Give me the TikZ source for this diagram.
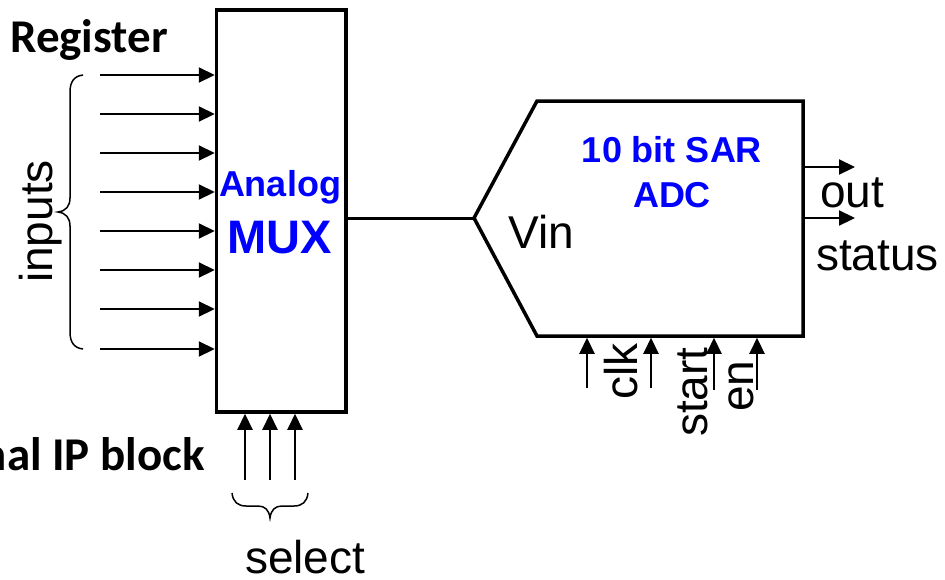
\documentclass[tikz,border=0pt]{standalone}
\usepackage{fontspec}
\setmainfont{Liberation Sans}
\newfontfamily\calib{Carlito}
\usetikzlibrary{arrows.meta}
\begin{document}
\begin{tikzpicture}[x=1pt,y=-1pt,
  blockline/.style={draw,line width=3.5pt,line join=miter},
  sig/.style={line width=2.2pt,-{Triangle[length=16pt,width=15pt]}},
  lbl/.style={inner sep=0pt,font=\fontsize{46}{50}\selectfont},
  bluelbl/.style={inner sep=0pt,text=blue,font=\bfseries\fontsize{36}{40}\selectfont},
  caltext/.style={inner sep=0pt,font=\calib\bfseries\fontsize{47}{50}\selectfont},
  bracepath/.style={line width=1.5pt}]
\useasboundingbox (0,0) rectangle (945,579);

% MUX block
\node[blockline,minimum width=129.5pt,minimum height=402pt,inner sep=0pt] (mux) at (281.25,211) {};
\node[bluelbl,anchor=base] (analog) at (280,196) {Analog};
\node[inner sep=0pt,text=blue,font=\bfseries\fontsize{47}{50}\selectfont,anchor=base] (muxt) at (280,253) {MUX};

% inputs
\foreach \i/\y in {1/75,2/114,3/153,4/192,5/231,6/270,7/309,8/349}{
  \coordinate (in\i) at (100,\y);
  \draw[sig] (in\i) -- (in\i -| mux.west);
}
\draw[bracepath] (83,75) .. controls (74,76) and (70,82) .. (70,92) -- (70,198)
  .. controls (70,206) and (66,211) .. (58,212) .. controls (66,213) and (70,218) .. (70,226)
  -- (70,332) .. controls (70,342) and (74,348) .. (83,349);
\node[lbl,rotate=90,anchor=base west] (inputs) at (52,283) {inputs};

\node[caltext,anchor=base west] (reg) at (10,52) {Register};
\node[caltext,anchor=base east] (ip) at (205,470) {nal IP block};

% select
\foreach \i/\x in {1/245,2/270,3/295}{
  \coordinate (s\i) at (\x,480);
  \draw[sig] (s\i) -- (s\i |- mux.south);
}
\draw[bracepath] (232,493) .. controls (233,502) and (238,506) .. (246,506) -- (258,506)
  .. controls (265,506) and (269,510) .. (270,518) .. controls (271,510) and (275,506) .. (282,506)
  -- (294,506) .. controls (302,506) and (307,502) .. (308,493);
\node[lbl,anchor=base west] (select) at (245,573) {select};

% ADC block
\coordinate (vin) at (474,218);
\coordinate (tl) at (537,101);
\coordinate (tr) at (803,101);
\coordinate (br) at (803,336);
\coordinate (bl) at (537,336);
\draw[blockline] (vin) -- (tl) -- (tr) -- (br) -- (bl) -- cycle;
\coordinate (adcbot) at (0,337.75);
\coordinate (adcright) at (804.75,0);
\draw[line width=3pt] (mux.east |- vin) -- (vin);

\node[bluelbl,anchor=base] (t1) at (672,162) {10 bit SAR};
\node[bluelbl,anchor=base] (t2) at (672,207) {ADC};
\node[lbl,anchor=base west] (vint) at (508,248) {Vin};

% outputs
\coordinate (o1) at (855,167);
\coordinate (o2) at (855,218);
\draw[sig] (o1 -| adcright) -- (o1);
\draw[sig] (o2 -| adcright) -- (o2);
\node[lbl,anchor=base west] (out) at (820,207) {out};
\node[lbl,anchor=base west] (status) at (816,270) {status};

% control inputs
\foreach \i/\x/\y in {1/587/388,2/651/388,3/714/390,4/757/390}{
  \coordinate (c\i) at (\x,\y);
  \draw[sig] (c\i) -- (c\i |- adcbot);
}
\node[lbl,rotate=90,anchor=base west] (clk) at (637,400) {clk};
\node[lbl,rotate=90,anchor=base west] (start) at (707,437) {start};
\node[lbl,rotate=90,anchor=base west] (en) at (753,412) {en};
\end{tikzpicture}
\end{document}
